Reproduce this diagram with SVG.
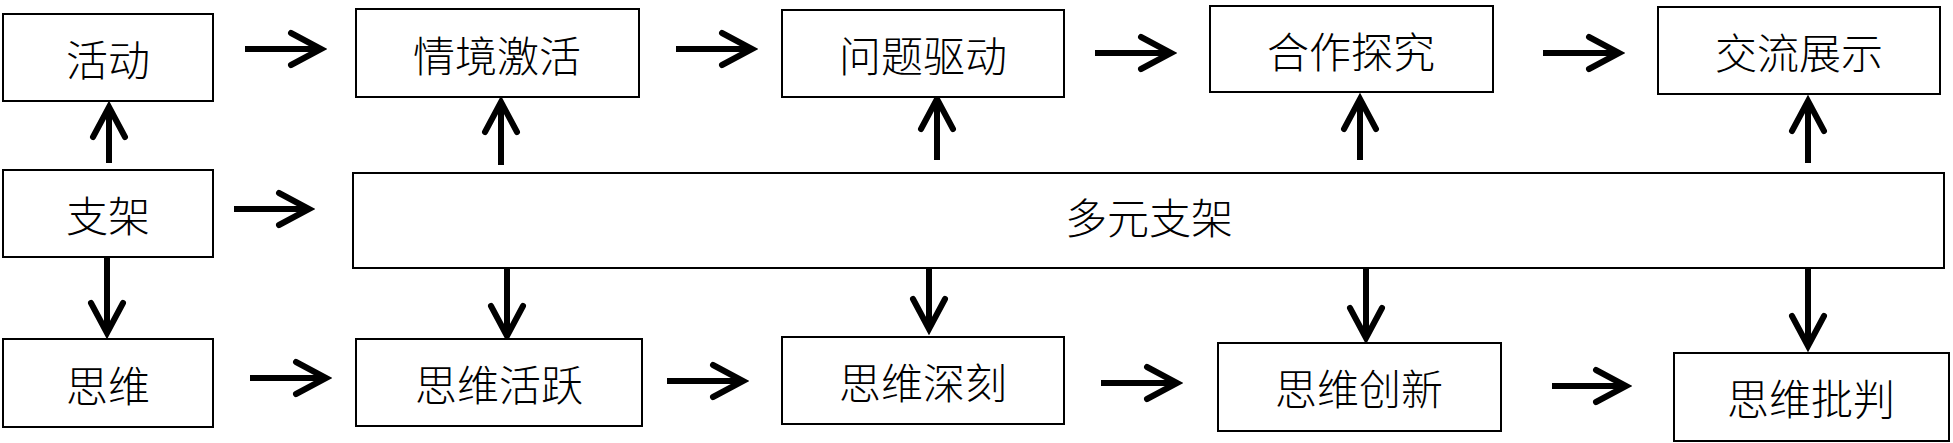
<svg xmlns="http://www.w3.org/2000/svg" width="1953" height="443" viewBox="0 0 1953 443">
<style>
.box{fill:#fff;stroke:#000;stroke-width:2}
.t{font-family:"Noto Sans CJK SC","Liberation Serif",sans-serif;font-size:42px;font-weight:300;fill:#000;text-anchor:middle;dominant-baseline:central}
.c{fill:none;stroke:#000;stroke-width:6;marker-end:url(#arr)}
</style>
<defs>
<marker id="arr" markerUnits="userSpaceOnUse" orient="auto" viewBox="-40 -22 46 44" markerWidth="46" markerHeight="44" refX="0" refY="0">
<path d="M-30,-16 L0,0 L-30,16" fill="none" stroke="#000" stroke-width="6" stroke-linecap="round" stroke-linejoin="miter"/>
</marker>
</defs>
<rect width="1953" height="443" fill="#fff"/>
<g id="connectors">
<path class="c" d="M245,49 H321"/>
<path class="c" d="M676,49 H752"/>
<path class="c" d="M1095,53 H1171"/>
<path class="c" d="M1543,53 H1619"/>
<path class="c" d="M234,209 H309"/>
<path class="c" d="M250,378 H326"/>
<path class="c" d="M667,381 H743"/>
<path class="c" d="M1101,383 H1177"/>
<path class="c" d="M1552,386 H1626"/>
<path class="c" d="M109,163 V107"/>
<path class="c" d="M501,165 V102"/>
<path class="c" d="M937,160 V99"/>
<path class="c" d="M1360,160 V99"/>
<path class="c" d="M1808,163 V101"/>
<path class="c" d="M107,257 V333"/>
<path class="c" d="M507,268 V336"/>
<path class="c" d="M929,268 V329"/>
<path class="c" d="M1366,268 V338"/>
<path class="c" d="M1808,268 V346"/>
</g>
<g id="n-huodong"><rect class="box" x="3" y="14" width="210" height="87"/><text class="t" x="108" y="57">活动</text></g>
<g id="n-zhijia"><rect class="box" x="3" y="170" width="210" height="87"/><text class="t" x="108" y="213">支架</text></g>
<g id="n-siwei"><rect class="box" x="3" y="339" width="210" height="88"/><text class="t" x="108" y="383">思维</text></g>
<g id="n-qingjing"><rect class="box" x="356" y="9" width="283" height="88"/><text class="t" x="497" y="53">情境激活</text></g>
<g id="n-wenti"><rect class="box" x="782" y="10" width="282" height="87"/><text class="t" x="923" y="53">问题驱动</text></g>
<g id="n-hezuo"><rect class="box" x="1210" y="6" width="283" height="86"/><text class="t" x="1351" y="49">合作探究</text></g>
<g id="n-jiaoliu"><rect class="box" x="1658" y="7" width="282" height="87"/><text class="t" x="1799" y="50">交流展示</text></g>
<g id="n-duoyuan"><rect class="box" x="353" y="173" width="1591" height="95"/><text class="t" x="1149" y="215">多元支架</text></g>
<g id="n-huoyue"><rect class="box" x="356" y="339" width="286" height="87"/><text class="t" x="499" y="382">思维活跃</text></g>
<g id="n-shenke"><rect class="box" x="782" y="337" width="282" height="87"/><text class="t" x="923" y="380">思维深刻</text></g>
<g id="n-chuangxin"><rect class="box" x="1218" y="343" width="283" height="88"/><text class="t" x="1359" y="386">思维创新</text></g>
<g id="n-pipan"><rect class="box" x="1674" y="353" width="275" height="88"/><text class="t" x="1811" y="396">思维批判</text></g>
</svg>
